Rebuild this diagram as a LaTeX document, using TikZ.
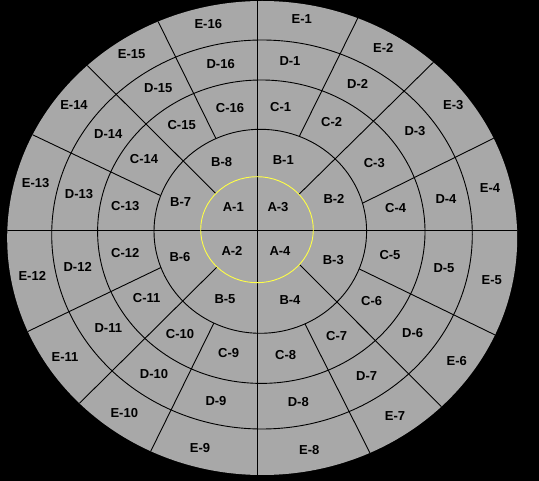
\documentclass[tikz,border=0pt]{standalone}
\usepackage{fontspec}
\setmainfont{Liberation Sans}
\usepackage{tikz}

\definecolor{panel}{RGB}{168,168,168}
\definecolor{hub}{RGB}{255,255,70}

\begin{document}
\begin{tikzpicture}[
            x = 1pt, y = -1pt, % one unit is one pixel, y runs down
            ring/.style = {draw = black, line width = 0.9pt},
            spoke/.style = {draw = black, line width = 0.9pt,
                shorten <= -6pt, shorten >= -10pt}, % run past both rings
            cell/.style = {font = \fontsize{13}{13}\selectfont\bfseries,
                inner sep = 0pt}
        ]

        \useasboundingbox (0,0) rectangle (539,481);
        \fill[black] (0,0) rectangle (539,481);

        % outer disc
        \fill[panel] (262.2,238) ellipse [x radius = 255, y radius = 237];

        \begin{scope}
        \clip (262.2,238) ellipse [x radius = 255, y radius = 237];

        % spokes of the C, D and E rings
        \draw[spoke] (215,136.7) -- (157.7,20.7);
        \draw[spoke] (159.3,195) -- (31,134);
        \draw[spoke] (300,135) -- (357.7,18.3);
        \draw[spoke] (364.3,202.3) -- (498.3,136);
        \draw[spoke] (159.3,268.3) -- (24,333.3);
        \draw[spoke] (213.3,324.3) -- (150,452.7);
        \draw[spoke] (360,269.3) -- (500.7,337.7);
        \draw[spoke] (305,324) -- (371,455);

        \fill[panel] (260.3,231.3) ellipse [x radius = 106.3, y radius = 102];

        % diagonals from the hub outwards
        \draw[spoke] (215,192.7) -- (86,64.3);
        \draw[spoke] (300,193.3) -- (435.7,60);
        \draw[spoke] (215,269) -- (76,406.7);
        \draw[spoke] (300,265) -- (445.7,411);

        \fill[panel] (257,229.7) ellipse [x radius = 56.3, y radius = 53];

        % rings
        \draw[ring] (260.3,231.3) ellipse [x radius = 106.3, y radius = 102];
        \draw[ring] (261.3,231.7) ellipse [x radius = 163.7, y radius = 151.7];
        \draw[ring] (262,234.5) ellipse [x radius = 210.3, y radius = 194.5];

        % cross
        \draw[ring] (0,230) -- (539,230);
        \draw[ring] (257.3,0) -- (257.3,481);

        \draw[draw = hub, line width = 0.9pt] (257,229.7) ellipse [x radius = 56.3, y radius = 53];
        \end{scope}

        % hub
        \node (a1) [cell] at (233.3,207.5) {A-1};
        \node (a2) [cell] at (232,250.5) {A-2};
        \node (a3) [cell] at (278,207.3) {A-3};
        \node (a4) [cell] at (280,251) {A-4};

        % B ring
        \node (b1) [cell] at (283.3,160) {B-1};
        \node (b2) [cell] at (334,199) {B-2};
        \node (b3) [cell] at (333.3,260) {B-3};
        \node (b4) [cell] at (290,300) {B-4};
        \node (b5) [cell] at (225,299.3) {B-5};
        \node (b6) [cell] at (180,256.7) {B-6};
        \node (b7) [cell] at (180.7,201.7) {B-7};
        \node (b8) [cell] at (221.7,162.3) {B-8};

        % C ring
        \node (c1) [cell] at (280.7,106.7) {C-1};
        \node (c2) [cell] at (331.7,121.7) {C-2};
        \node (c3) [cell] at (374.3,162.7) {C-3};
        \node (c4) [cell] at (395.7,208.3) {C-4};
        \node (c5) [cell] at (390,255) {C-5};
        \node (c6) [cell] at (371.7,301) {C-6};
        \node (c7) [cell] at (336.7,336) {C-7};
        \node (c8) [cell] at (285.7,355) {C-8};
        \node (c9) [cell] at (228.7,353.3) {C-9};
        \node (c10) [cell] at (180,334.3) {C-10};
        \node (c11) [cell] at (146.7,298.3) {C-11};
        \node (c12) [cell] at (125.3,253.3) {C-12};
        \node (c13) [cell] at (125.3,206) {C-13};
        \node (c14) [cell] at (144,159.3) {C-14};
        \node (c15) [cell] at (181.7,125) {C-15};
        \node (c16) [cell] at (230,107.7) {C-16};

        % D ring
        \node (d1) [cell] at (290,61) {D-1};
        \node (d2) [cell] at (357.7,84) {D-2};
        \node (d3) [cell] at (415,130.7) {D-3};
        \node (d4) [cell] at (446,199.3) {D-4};
        \node (d5) [cell] at (444,268.3) {D-5};
        \node (d6) [cell] at (412.7,333.3) {D-6};
        \node (d7) [cell] at (366.7,375.7) {D-7};
        \node (d8) [cell] at (298.3,402.3) {D-8};
        \node (d9) [cell] at (216,401) {D-9};
        \node (d10) [cell] at (154,374) {D-10};
        \node (d11) [cell] at (108.3,328.3) {D-11};
        \node (d12) [cell] at (77.7,266.7) {D-12};
        \node (d13) [cell] at (79,193.7) {D-13};
        \node (d14) [cell] at (108.3,134) {D-14};
        \node (d15) [cell] at (158.3,88.3) {D-15};
        \node (d16) [cell] at (220.7,64) {D-16};

        % E ring
        \node (e1) [cell] at (301.7,19.3) {E-1};
        \node (e2) [cell] at (383.3,48.3) {E-2};
        \node (e3) [cell] at (453.3,105) {E-3};
        \node (e4) [cell] at (490,188.3) {E-4};
        \node (e5) [cell] at (491.7,280) {E-5};
        \node (e6) [cell] at (456.7,360.7) {E-6};
        \node (e7) [cell] at (395,416) {E-7};
        \node (e8) [cell] at (309.3,450) {E-8};
        \node (e9) [cell] at (200,448.3) {E-9};
        \node (e10) [cell] at (124.3,412.7) {E-10};
        \node (e11) [cell] at (65,356.7) {E-11};
        \node (e12) [cell] at (32.3,276) {E-12};
        \node (e13) [cell] at (35.7,183) {E-13};
        \node (e14) [cell] at (74,105.3) {E-14};
        \node (e15) [cell] at (131.7,54) {E-15};
        \node (e16) [cell] at (208.3,24) {E-16};

    \end{tikzpicture}
\end{document}
